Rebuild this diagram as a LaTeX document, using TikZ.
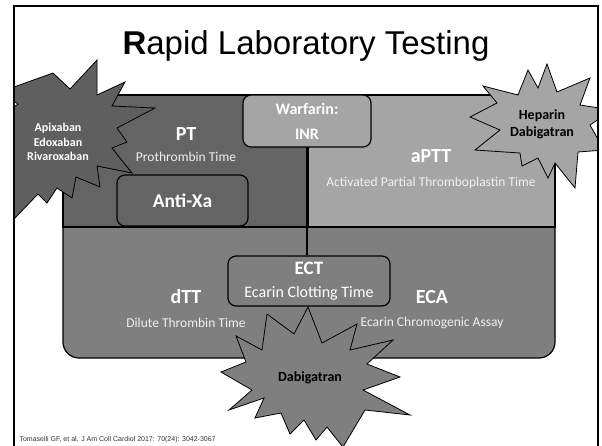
\documentclass[tikz,border=0pt]{standalone}
\usepackage{fontspec}
\setmainfont{Carlito}
\newfontfamily\titlefont{Liberation Sans}

\definecolor{ptgray}{HTML}{646464}
\definecolor{apttgray}{HTML}{A5A5A5}
\definecolor{lowgray}{HTML}{7F7F7F}

\tikzset{
  region/.style={draw=black, line width=1.2pt},
  testbox/.style={draw=black, line width=1.2pt, rounded corners=8pt},
  testname/.style={text=white, font=\fontsize{20}{24}\selectfont\bfseries},
  testlong/.style={text=white!94!black, font=\fontsize{13.5}{16}\selectfont},
  burstline/.style={draw=black, line width=0.8pt, line join=miter},
  burstlabel/.style={align=center, font=\fontsize{14}{17}\selectfont\bfseries},
}

\begin{document}
\begin{tikzpicture}[x=1pt,y=-1pt]
  \useasboundingbox (0,0) rectangle (602,445);
  \begin{scope}
    \clip (14,6) rectangle (598,445);

    % the four test fields
    \path[region, fill=lowgray, rounded corners=16pt] (63,200) rectangle (555,358);
    \path[region, fill=ptgray] (63,95) rectangle (308,227);
    \path[region, fill=apttgray] (308,95) rectangle (555,227);

    \node[testname] (pt) at (186,134) {PT};
    \node[testlong] (ptlong) at (186,157) {Prothrombin Time};
    \node[testname] (aptt) at (431,156) {aPTT};
    \node[testlong] (apttlong) at (431,183) {Activated Partial Thromboplastin Time};
    \node[testname] (dtt) at (186,297) {dTT};
    \node[testlong] (dttlong) at (186,323) {Dilute Thrombin Time};
    \node[testname] (eca) at (432,297) {ECA};
    \node[testlong] (ecalong) at (432,323) {Ecarin Chromogenic Assay};

    % boxes sitting on the fields
    \node[testbox, fill=apttgray, minimum width=128pt, minimum height=52pt,
      text=white, align=center, font=\fontsize{16}{25}\selectfont\bfseries]
      (warfarin) at (307,121) {Warfarin:\\INR};
    \node[testbox, fill=ptgray, minimum width=131pt, minimum height=51pt,
      text=white, font=\fontsize{19.5}{24}\selectfont\bfseries]
      (antixa) at (182.5,200.5) {Anti-Xa};
    \node[testbox, fill=lowgray, minimum width=162pt, minimum height=50pt,
      text=white, align=center, font=\fontsize{16}{23}\selectfont]
      (ect) at (309,281) {{\fontsize{19}{23}\selectfont\bfseries ECT}\\Ecarin Clotting Time};

    \draw[line width=1.2pt] (warfarin.south) -- (warfarin.south |- ect.north);

    % drug bursts
    \draw[burstline, fill=ptgray!95!black]
      (97,60) -- (97,95) -- (125,82) -- (112,106) -- (155,108) -- (117,128)
      -- (127,142) -- (112,148) -- (132,173) -- (97,166) -- (100,187)
      -- (76,177) -- (72,198) -- (57,188) -- (47,203) -- (38,194) -- (15,218)
      -- (2,170) -- (0,118) -- (18,104) -- (0,92) -- (53,73) -- (70,89) -- cycle;
    \node[burstlabel, text=white, font=\fontsize{12}{14.5}\selectfont\bfseries]
      (xadrugs) at (58,142) {Apixaban\\Edoxaban\\Rivaroxaban};

    \draw[burstline, fill=apttgray]
      (547,64) -- (557,92) -- (590,78) -- (580,105) -- (612,110) -- (590,125)
      -- (604,150) -- (578,152) -- (575,188) -- (555,163) -- (548,178)
      -- (538,158) -- (522,166) -- (520,153) -- (475,150) -- (500,130)
      -- (470,117) -- (497,103) -- (483,86) -- (518,95) -- (528,70)
      -- (538,88) -- cycle;
    \node[burstlabel] (hepdrugs) at (542,124) {Heparin\\Dabigatran};

    \draw[burstline, fill=lowgray]
      (308,307) -- (322,343) -- (357,324) -- (350,350) -- (393,340)
      -- (367,364) -- (400,377) -- (363,390) -- (410,415) -- (365,410)
      -- (343,447) -- (327,427) -- (316,440) -- (304,420) -- (290,434)
      -- (281,413) -- (255,418) -- (264,398) -- (229,410) -- (252,390)
      -- (221,372) -- (246,362) -- (236,336) -- (262,350) -- (267,314)
      -- (294,334) -- cycle;
    \node[burstlabel] (dabidrug) at (310,378) {Dabigatran};
  \end{scope}

  \node[font=\titlefont\fontsize{33}{40}\selectfont] (title) at (306,46)
    {\textbf{R}apid Laboratory Testing};
  \node[anchor=west, text=black!80, font=\titlefont\fontsize{7}{8}\selectfont]
    (source) at (16,440) {Tomaselli GF, et al. J Am Coll Cardiol 2017: 70(24): 3042-3067};

  % slide frame
  \draw[line width=2pt] (14,6) rectangle (598,460);
\end{tikzpicture}
\end{document}
